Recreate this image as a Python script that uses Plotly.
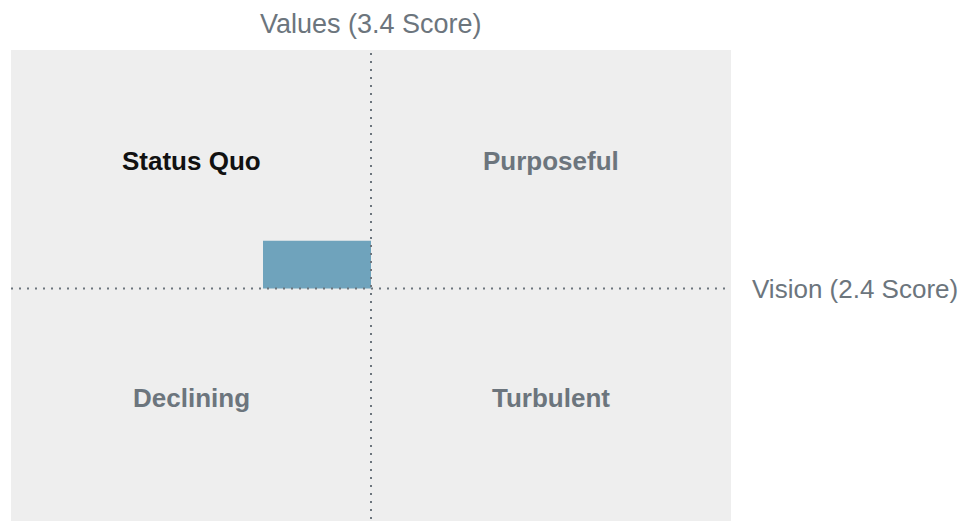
import plotly.graph_objects as go

# Scores (1-5 scale, midpoint 3)
vision_score = 2.4
values_score = 3.4
midpoint = 3
axis_min, axis_max = 1, 5

# Quadrant names and their centres
quadrant_names = ["Status Quo", "Purposeful", "Declining", "Turbulent"]
quadrant_x = [2, 4, 2, 4]
quadrant_y = [4.07, 4.07, 2.08, 2.08]

GRAY = "#6c757d"
BAR = "#6fa3bc"

fig = go.Figure()

# score rectangle from the midpoint to the scores
fig.add_trace(go.Scatter(
    x=[vision_score, midpoint, midpoint, vision_score, vision_score],
    y=[midpoint, midpoint, values_score, values_score, midpoint],
    fill="toself", fillcolor=BAR, mode="lines", line=dict(width=0),
    hoverinfo="skip", showlegend=False,
))

# which quadrant holds the score
active = ("Status Quo" if vision_score < midpoint and values_score >= midpoint else
          "Purposeful" if vision_score >= midpoint and values_score >= midpoint else
          "Declining" if vision_score < midpoint else "Turbulent")

for name, qx, qy in zip(quadrant_names, quadrant_x, quadrant_y):
    fig.add_annotation(
        x=qx, y=qy, text=f"<b>{name}</b>", showarrow=False,
        font=dict(size=26, color="#111111" if name == active else GRAY),
    )

# dotted midlines
dot = dict(color=GRAY, width=2, dash="2px,6px")
fig.add_shape(type="line", x0=midpoint, x1=midpoint, y0=axis_min, y1=axis_max, line=dot)
fig.add_shape(type="line", x0=axis_min, x1=axis_max, y0=midpoint, y1=midpoint, line=dot)

fig.add_annotation(
    x=midpoint, y=1, yref="paper", yanchor="bottom", yshift=9,
    text=f"Values ({values_score} Score)", showarrow=False,
    font=dict(size=27, color=GRAY),
)
fig.add_annotation(
    x=1, xref="paper", y=midpoint, xanchor="left", xshift=19,
    text=f"Vision ({vision_score} Score)", showarrow=False,
    font=dict(size=26, color=GRAY),
)

fig.update_xaxes(range=[axis_min, axis_max], visible=False, fixedrange=True)
fig.update_yaxes(range=[axis_min, axis_max], visible=False, fixedrange=True)

fig.update_layout(
    width=966, height=532,
    margin=dict(l=3, r=243, t=42, b=13),
    plot_bgcolor="#eeeeee", paper_bgcolor="white",
    font=dict(family="Liberation Sans, Arial, sans-serif"),
    showlegend=False,
)

fig.write_html("out.html")
